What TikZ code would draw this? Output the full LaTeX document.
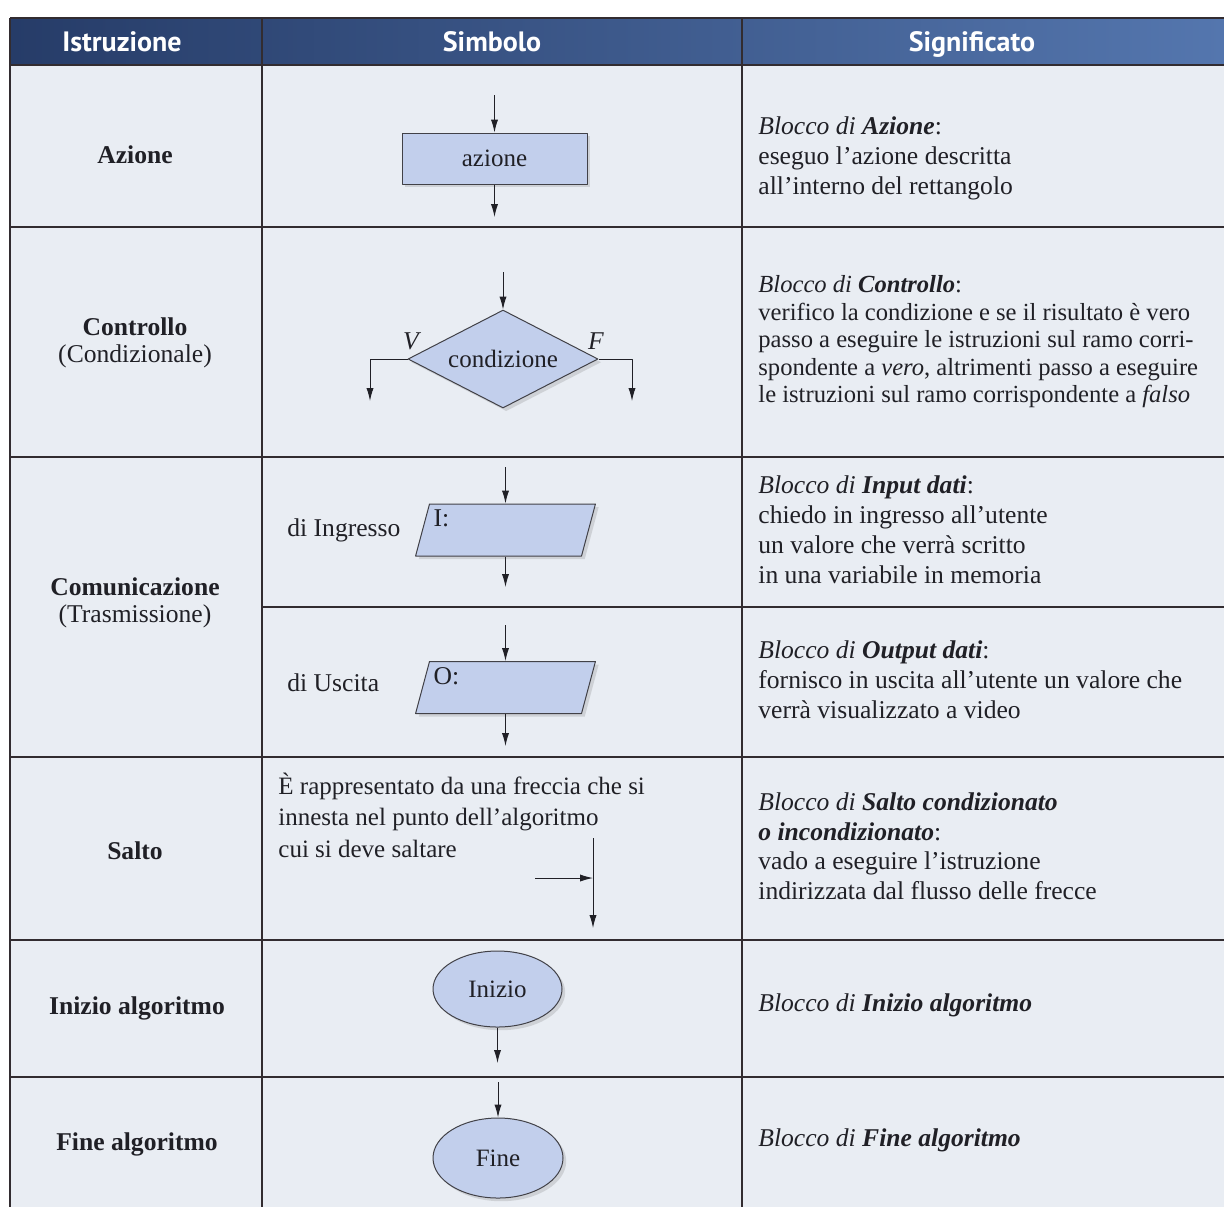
\documentclass[tikz,border=0pt]{standalone}
\usepackage{fontspec}
\setmainfont{Liberation Serif}
\newfontfamily\headfont{PT Sans}
\usetikzlibrary{arrows.meta,calc,positioning,shadows,shapes.geometric}

\definecolor{headL}{RGB}{38,60,104}
\definecolor{headR}{RGB}{84,118,174}
\definecolor{cellbg}{RGB}{233,237,243}
\definecolor{symfill}{RGB}{194,207,236}
\definecolor{rulecol}{RGB}{50,44,48}
\definecolor{ink}{RGB}{32,32,38}

\newcommand{\tabrule}[2]{\draw [rowrule] (#1,#2) -- (1224,#2);}
\newcommand{\txtsize}[2]{\fontsize{#1}{#2}\selectfont}

\tikzset{
  rowrule/.style={draw=rulecol, line width=1.1pt},
  colrule/.style={draw=rulecol, line width=0.8pt},
  headtxt/.style={text=white, anchor=base, font=\headfont\bfseries\fontsize{14}{16}\selectfont},
  body/.style={text=ink, font=\txtsize{12.8}{15}, inner sep=0pt},
  instr/.style={body, align=center},
  mean/.style={body, anchor=west, align=left},
  symbol/.style={draw=ink!85, line width=0.5pt, fill=symfill, text=ink, font=\txtsize{12.5}{15},
      drop shadow={shadow xshift=1.6pt, shadow yshift=-1.6pt, opacity=0.25}},
  ioblock/.style={trapezium, trapezium left angle=75, trapezium right angle=105,
      inner xsep=38pt, inner ysep=13pt},
  flow/.style={->, draw=ink, line width=0.5pt}
}

\begin{document}
\begin{tikzpicture}[x=0.5pt,y=-0.5pt,line join=round,>={Latex[length=6.5pt,width=3.6pt]}]
  \useasboundingbox (0,0) rectangle (1224,1207);
  \fill [white] (0,0) rectangle (1224,1207);
  \fill [cellbg] (10,65) rectangle (1224,1207);
  \shade [left color=headL, right color=headR] (10,18) rectangle (1224,65);

  \foreach \yy in {65,227,457,757,940,1077} {
      \tabrule{10}{\yy}
    }
  \tabrule{262}{607}
  \tabrule{10}{18}
  \foreach \xx in {10,262,742} {
      \draw [colrule] (\xx,18) -- (\xx,1207);
    }

  % intestazione
  \node [headtxt] (hIstr) at (122,51) {Istruzione};
  \node [headtxt] (hSimb) at (492,51) {Simbolo};
  \node [headtxt] (hSign) at (972,51) {Significato};

  % colonna Istruzione
  \node [instr] (iAz) at (135,155) {\bfseries Azione};
  \node [instr, font=\txtsize{12.8}{13.5}] (iCtrl) at (135,343) {\textbf{Controllo}\\(Condizionale)};
  \node [instr, font=\txtsize{12.8}{13.5}] (iCom) at (135,603) {\textbf{Comunicazione}\\(Trasmissione)};
  \node [instr] (iSalto) at (135,851) {\bfseries Salto};
  \node [instr] (iIni) at (137,1008) {\bfseries Inizio algoritmo};
  \node [instr] (iFine) at (137,1144) {\bfseries Fine algoritmo};

  % colonna Simbolo
  \coordinate (actIn) at (494.5,95);
  \coordinate (actOut) at (494.5,217);
  \node [symbol, rectangle, minimum width=92.5pt, minimum height=25.5pt] (act) at (494.5,158.5) {azione};
  \draw [flow] (actIn) -- (act);
  \draw [flow] (act) -- (actOut);

  \coordinate (condIn) at (503,272);
  \coordinate (condV) at (370,401);
  \coordinate (condF) at (632,401);
  \node [symbol, diamond, aspect=2, inner sep=0pt, minimum width=95pt, minimum height=49pt] (cond) at (503,359) {condizione};
  \draw [flow] (condIn) -- (cond);
  \draw [flow] (cond.west) -| (condV);
  \draw [flow] (cond.east) -| (condF);
  \node [body] (labV) at (411,341) {\itshape V};
  \node [body] (labF) at (596,341) {\itshape F};

  \node [body, anchor=west] (lIn) at (287,530) {di Ingresso};
  \coordinate (inIn) at (505.5,467);
  \coordinate (inOut) at (505.5,587);
  \node [symbol, ioblock] (inp) at (505.5,530) {};
  \node [body, anchor=north west] (inTag) at ($(inp.top left corner)+(4,6)$) {I:};
  \draw [flow] (inIn) -- (inp);
  \draw [flow] (inp) -- (inOut);

  \node [body, anchor=west] (lOut) at (287,683) {di Uscita};
  \coordinate (outIn) at (505.5,625);
  \coordinate (outOut) at (505.5,746);
  \node [symbol, ioblock] (outp) at (505.5,687.5) {};
  \node [body, anchor=north west] (outTag) at ($(outp.top left corner)+(4,6)$) {O:};
  \draw [flow] (outIn) -- (outp);
  \draw [flow] (outp) -- (outOut);

  \node [mean, font=\txtsize{12.5}{15.75}] (sDesc) at (278,815) {È rappresentato da una freccia che si\\innesta nel punto dell’algoritmo\\cui si deve saltare};
  \coordinate (jTop) at (593,838);
  \coordinate (jBot) at (593,928);
  \coordinate (jIn) at (535,878);
  \coordinate (jHit) at (593,878);
  \draw [flow] (jTop) -- (jBot);
  \draw [flow] (jIn) -- (jHit);

  \node [symbol, ellipse, minimum width=64.5pt, minimum height=38pt] (start) at (497.5,989) {Inizio};
  \coordinate (startOut) at (497.5,1063);
  \draw [flow] (start) -- (startOut);

  \coordinate (stopIn) at (498,1082);
  \node [symbol, ellipse, minimum width=65pt, minimum height=40pt] (stop) at (498,1158) {Fine};
  \draw [flow] (stopIn) -- (stop);

  % colonna Significato
  \node [mean] (mAz) at (758,158) {\textit{Blocco di \textbf{Azione}}:\\eseguo l’azione descritta\\all’interno del rettangolo};
  \node [mean, font=\txtsize{12.3}{13.75}] (mCtrl) at (758,342) {\textit{Blocco di \textbf{Controllo}}:\\verifico la condizione e se il risultato è vero\\passo a eseguire le istruzioni sul ramo corri-\\spondente a \textit{vero}, altrimenti passo a eseguire\\le istruzioni sul ramo corrispondente a \textit{falso}};
  \node [mean] (mIn) at (758,530) {\textit{Blocco di \textbf{Input dati}}:\\chiedo in ingresso all’utente\\un valore che verrà scritto\\in una variabile in memoria};
  \node [mean] (mOut) at (758,680) {\textit{Blocco di \textbf{Output dati}}:\\fornisco in uscita all’utente un valore che\\verrà visualizzato a video};
  \node [mean, font=\txtsize{12.8}{14.75}] (mSalto) at (758,846) {\textit{Blocco di \textbf{Salto condizionato}}\\\textit{\textbf{o incondizionato}}:\\vado a eseguire l’istruzione\\indirizzata dal flusso delle frecce};
  \node [mean] (mIni) at (758,1005) {\textit{Blocco di \textbf{Inizio algoritmo}}};
  \node [mean] (mFine) at (758,1140) {\textit{Blocco di \textbf{Fine algoritmo}}};
\end{tikzpicture}
\end{document}
